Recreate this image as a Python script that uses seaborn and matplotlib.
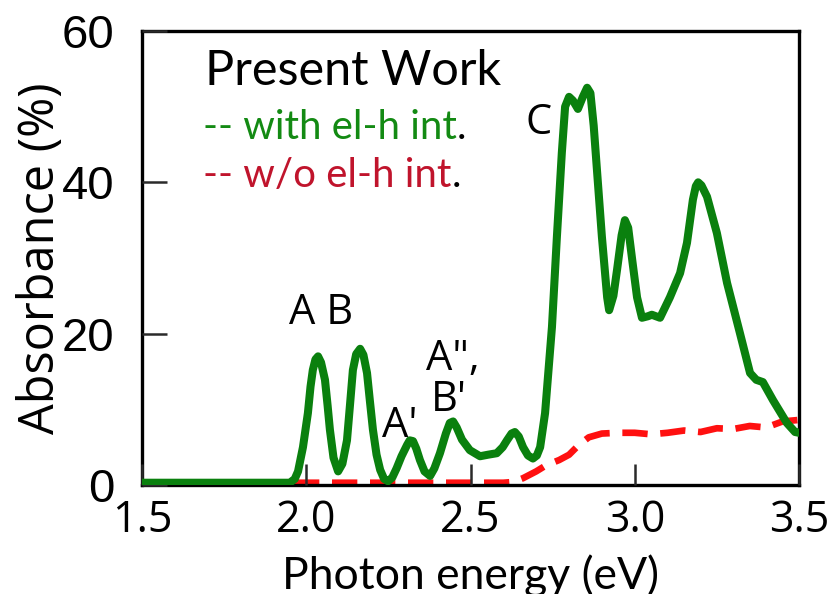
import matplotlib
matplotlib.use("Agg")
import matplotlib.pyplot as plt
import seaborn as sns
import pandas as pd
from matplotlib import font_manager

# Absorbance spectra (photon energy in eV, absorbance in %)
energy_with = [1.50, 1.95, 1.965, 1.975, 1.99, 2.005, 2.013, 2.02, 2.028, 2.036,
               2.045, 2.057, 2.065, 2.072, 2.083, 2.097, 2.11, 2.124, 2.133, 2.142,
               2.152, 2.164, 2.174, 2.185, 2.194, 2.203, 2.214, 2.225, 2.237, 2.249,
               2.262, 2.275, 2.29, 2.307, 2.315, 2.325, 2.335, 2.346, 2.36, 2.377,
               2.39, 2.407, 2.425, 2.437, 2.447, 2.458, 2.474, 2.498, 2.529, 2.553,
               2.58, 2.598, 2.611, 2.625, 2.635, 2.647, 2.66, 2.675, 2.69, 2.702,
               2.712, 2.727, 2.748, 2.763, 2.778, 2.788, 2.80, 2.812, 2.827, 2.842,
               2.855, 2.865, 2.875, 2.885, 2.90, 2.916, 2.922, 2.935, 2.946, 2.96,
               2.97, 2.98, 2.993, 3.007, 3.022, 3.04, 3.052, 3.077, 3.107, 3.138,
               3.159, 3.177, 3.186, 3.193, 3.203, 3.22, 3.25, 3.281, 3.32, 3.351,
               3.37, 3.39, 3.421, 3.463, 3.488, 3.50]
absorb_with = [0.3, 0.3, 0.8, 1.8, 5.0, 9.5, 13.0, 15.2, 16.6, 17.0,
               16.2, 13.9, 10.5, 7.3, 3.6, 1.8, 2.8, 5.9, 10.5, 15.2,
               17.3, 18.0, 17.2, 14.8, 11.0, 7.3, 4.0, 2.0, 0.8, 0.5,
               1.0, 2.2, 3.8, 5.3, 5.9, 5.8, 4.8, 3.3, 1.8, 1.2,
               2.2, 4.2, 6.8, 8.2, 8.4, 7.6, 6.0, 4.6, 3.8, 4.0,
               4.2, 5.0, 5.9, 6.8, 7.0, 6.4, 5.0, 3.9, 3.5, 3.9,
               5.0, 9.5, 20.9, 32.8, 43.9, 50.0, 51.3, 50.8, 49.7, 51.3,
               52.5, 51.8, 47.5, 41.6, 32.8, 24.8, 23.1, 25.0, 28.4, 33.0,
               35.0, 34.0, 29.5, 24.8, 22.1, 22.3, 22.5, 22.1, 24.8, 28.0,
               32.0, 37.7, 39.5, 40.0, 39.6, 38.1, 33.3, 26.7, 20.1, 14.8,
               13.9, 13.6, 11.2, 8.2, 7.0, 6.9]

energy_without = [1.50, 2.60, 2.63, 2.66, 2.70, 2.73, 2.77, 2.80, 2.83, 2.86,
                  2.90, 2.95, 3.00, 3.05, 3.10, 3.15, 3.20, 3.25, 3.30, 3.35,
                  3.40, 3.45, 3.50]
absorb_without = [0.3, 0.3, 0.4, 0.9, 1.8, 2.6, 3.3, 4.0, 5.3, 6.3,
                  6.8, 6.9, 6.9, 6.7, 6.9, 7.2, 7.0, 7.5, 7.4, 7.8,
                  7.6, 8.4, 8.6]

x_ticks = [1.5, 2.0, 2.5, 3.0, 3.5]
x_tick_labels = ["1.5", "2.0", "2.5", "3.0", "3.5"]
y_ticks = [0, 20, 40, 60]
y_tick_labels = ["0", "20", "40", "60"]

peak_labels = ["A B", "A'", 'A",', "B'", "C"]
peak_x = [2.045, 2.285, 2.447, 2.435, 2.706]
peak_y = [22.7, 7.8, 16.7, 11.2, 47.8]

installed = {f.name for f in font_manager.fontManager.ttflist}
narrow = "Liberation Sans Narrow" if "Liberation Sans Narrow" in installed else "Liberation Sans"

# plain white background with a full black frame and inward ticks
sns.set_theme(style="ticks", rc={
    "axes.facecolor": "white",
    "figure.facecolor": "white",
    "axes.edgecolor": "black",
    "axes.linewidth": 2.4,
    "axes.spines.top": True,
    "axes.spines.right": True,
    "axes.axisbelow": False,
    "text.color": "black",
    "axes.labelcolor": "black",
    "xtick.labelcolor": "black",
    "ytick.labelcolor": "black",
    "xtick.direction": "in",
    "ytick.direction": "in",
})
plt.rcParams["font.family"] = ["Open Sans", "DejaVu Sans"]

df_with = pd.DataFrame({"energy": energy_with, "absorbance": absorb_with})
df_without = pd.DataFrame({"energy": energy_without, "absorbance": absorb_without})

fig = plt.figure(figsize=(8.36, 5.94), dpi=100)
ax = fig.add_axes([142 / 836, 1 - 485 / 594, (799 - 142) / 836, (485 - 31) / 594])

sns.lineplot(data=df_without, x="energy", y="absorbance", ax=ax, color="#ff1010",
             lw=4.8, sort=False, estimator=None, zorder=2)
ax.lines[-1].set_dashes((3.8, 1.9))
ax.lines[-1].set_dash_capstyle("butt")
sns.lineplot(data=df_with, x="energy", y="absorbance", ax=ax, color="#0a800e",
             lw=5.8, sort=False, estimator=None, zorder=3)
ax.lines[-1].set_solid_joinstyle("round")
ax.lines[-1].set_solid_capstyle("round")

ax.set_xlim(1.5, 3.5)
ax.set_ylim(0, 60)
ax.set_xticks(x_ticks)
ax.set_xticklabels(x_tick_labels, fontsize=31, family="Open Sans")
ax.set_yticks(y_ticks)
ax.set_yticklabels(y_tick_labels, fontsize=34, family=narrow)
ax.tick_params(axis="x", which="major", bottom=True, top=False, direction="in",
               length=15, width=1.8, color="#2a2a2a", pad=10)
ax.tick_params(axis="y", which="major", left=True, right=False, direction="in",
               length=18, width=1.8, color="#2a2a2a", pad=20)
for tk in ax.xaxis.get_major_ticks() + ax.yaxis.get_major_ticks():
    tk.tick1line.set_visible(True)
    tk.tick1line.set_markeredgecolor("#2a2a2a")
    tk.tick1line.set_markeredgewidth(1.8)

for side in ["left", "bottom", "top", "right"]:
    ax.spines[side].set_visible(True)
    ax.spines[side].set_linewidth(2.4)
    ax.spines[side].set_color("black")

ax.set_xlabel("Photon energy (eV)", fontsize=32, family="Lato", labelpad=8)
ax.set_ylabel("Absorbance (%)", fontsize=35, family="Open Sans", labelpad=-3)

for lab, px, py in zip(peak_labels, peak_x, peak_y):
    ax.text(px, py, lab, fontsize=30, ha="center", va="center", family="Open Sans", color="black")

ax.text(1.692, 52.8, "Present Work", fontsize=35, family="Lato", ha="left", va="baseline")
t1 = ax.text(1.686, 44.8, "-- with el-h int", fontsize=29, family="Lato",
             color="#138a13", ha="left", va="bottom")
ax.annotate(".", xy=(1, 0), xycoords=t1, fontsize=29, family="Lato",
            color="black", ha="left", va="bottom")
t2 = ax.text(1.686, 38.4, "-- w/o el-h int", fontsize=29, family="Lato",
             color="#c0142c", ha="left", va="bottom")
ax.annotate(".", xy=(1, 0), xycoords=t2, fontsize=29, family="Lato",
            color="black", ha="left", va="bottom")

fig.savefig("out.png", dpi=100)
